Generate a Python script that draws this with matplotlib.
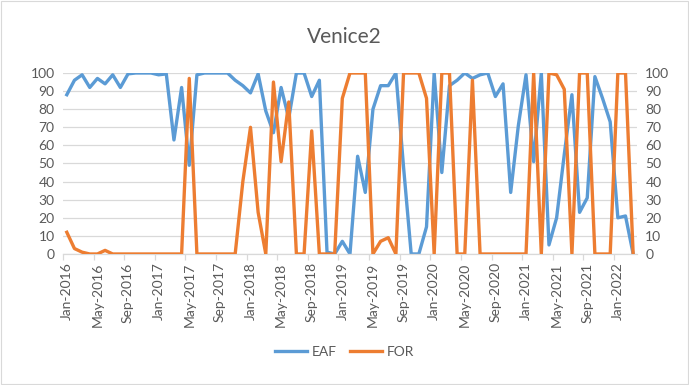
import matplotlib
matplotlib.use("Agg")
import matplotlib.pyplot as plt
from matplotlib.ticker import FixedLocator, NullFormatter
import pandas as pd

plt.rcParams['font.family'] = ['Lato', 'DejaVu Sans']

# Monthly series, Jan-2016 .. Mar-2022
months = pd.date_range("2016-01-01", "2022-03-01", freq="MS")
month_labels = [d.strftime("%b-%Y") for d in months]

eaf = [88, 96, 99, 92, 97, 94, 99, 92, 99.5, 100, 100, 100,
       99, 99.5, 63, 92, 49, 99, 100, 100, 100, 100, 96, 93,
       89, 99.5, 79, 67, 92, 75, 100, 100, 87, 96, 1, 0,
       7, 0, 54, 34, 80, 93, 93, 100, 48, 0, 0, 15,
       100, 45, 93, 96, 100, 97, 99, 100, 87, 94, 34, 71,
       99, 51, 100, 5, 20, 55, 88, 23, 31, 98, 86, 73,
       20, 21, 0]

for_ = [12, 3, 1, 0, 0, 2, 0, 0, 0, 0, 0, 0,
        0, 0, 0, 0, 97, 0, 0, 0, 0, 0, 0, 40,
        70, 23, 0, 95, 51, 84, 0, 0, 68, 0, 0, 0,
        86, 100, 100, 100, 0, 7, 9, 0, 100, 100, 100, 86,
        0, 100, 100, 0, 0, 96, 0, 0, 0, 0, 0, 0,
        0, 100, 0, 100, 99, 91, 0, 100, 100, 0, 0, 0,
        100, 100, 0]

series_names = ["EAF", "FOR"]
colors = ["#5B9BD5", "#ED7D31"]
text_color = "#595959"
grid_color = "#D9D9D9"

fig = plt.figure(figsize=(6.89, 3.85), dpi=100)
ax = fig.add_axes([0.0914, 0.3403, 0.8331, 0.4701])
ax2 = ax.twinx()

x = list(range(len(months)))
l1, = ax.plot(x, eaf, color=colors[0], lw=2.4, solid_joinstyle="round",
              label=series_names[0])
l2, = ax2.plot(x, for_, color=colors[1], lw=2.4, solid_joinstyle="round",
               label=series_names[1])

for a in (ax, ax2):
    a.set_ylim(0, 100)
    a.set_xlim(-0.5, len(months) - 0.5)
    a.set_yticks(range(0, 101, 10))
    for s in a.spines.values():
        s.set_visible(False)
    a.tick_params(axis="y", length=0, labelsize=10, colors=text_color, pad=6)

ax.yaxis.grid(True, color=grid_color, lw=0.9)
ax.set_axisbelow(True)
ax.spines["bottom"].set_visible(True)
ax.spines["bottom"].set_color(grid_color)
ax.spines["bottom"].set_linewidth(0.9)

# Tick marks on category boundaries, labels on category centres
ax.xaxis.set_major_locator(FixedLocator([i - 0.5 for i in range(0, len(months) + 1, 4)]))
ax.xaxis.set_major_formatter(NullFormatter())
ax.tick_params(axis="x", which="major", length=4, color=grid_color, width=0.9)
label_pos = list(range(0, len(months), 4))
ax.xaxis.set_minor_locator(FixedLocator(label_pos))
ax.set_xticks(label_pos, minor=True)
ax.set_xticklabels([month_labels[i] for i in label_pos], minor=True,
                   rotation=90, fontsize=10, color=text_color)
ax.tick_params(axis="x", which="minor", length=0, pad=6)

fig.suptitle("Venice2", y=0.93, fontsize=15, color=text_color)

fig.legend(handles=[l1, l2], loc="center", bbox_to_anchor=(0.5, 0.085),
           ncol=2, frameon=False, fontsize=10, labelcolor=text_color,
           handlelength=2.3, columnspacing=0.9, handletextpad=0.4)

fig.add_artist(plt.Rectangle((0.002, 0.003), 0.996, 0.994, transform=fig.transFigure,
                             fill=False, edgecolor=grid_color, lw=0.8))

fig.savefig("out.png", dpi=100, facecolor="white")
